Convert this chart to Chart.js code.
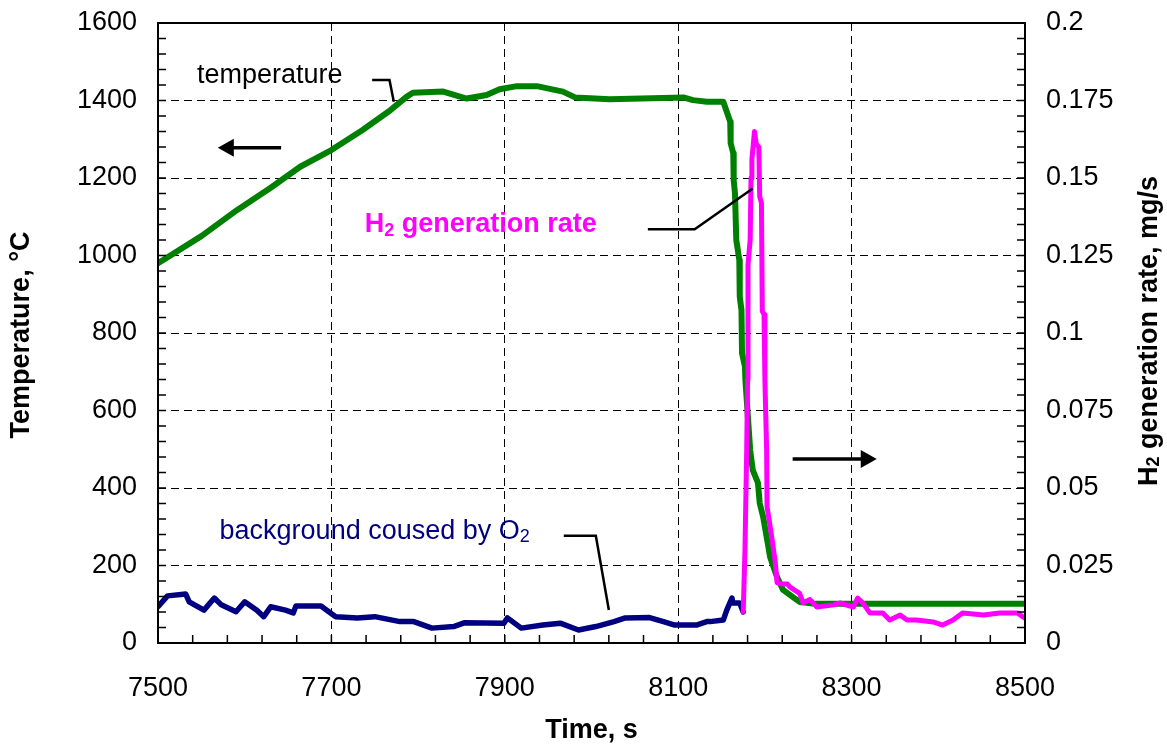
<!DOCTYPE html>
<html>
<head>
<meta charset="utf-8">
<script src="https://cdn.jsdelivr.net/npm/chart.js@4.4.0/dist/chart.umd.min.js"></script>
<style>
html, body { margin: 0; padding: 0; background: #fff; }
#wrap { width: 1167px; height: 747px; }
</style>
</head>
<body>
<div id="wrap"><canvas id="chart_dest" width="1167" height="747"></canvas></div>
<script>
// temperature (left axis, degC)
var tempTime = [7500, 7550, 7591, 7630, 7664, 7700, 7736, 7768, 7787, 7794, 7829, 7856, 7879, 7894, 7914,
  7937, 7952, 7967, 7981, 8021, 8106, 8117, 8133, 8150, 8152, 8156, 8160, 8160.5, 8163.5, 8164, 8165.5,
  8167, 8170.5, 8171, 8173, 8173.6, 8177, 8177.5, 8183, 8186, 8192, 8194, 8198, 8202, 8206, 8214, 8221,
  8232, 8240, 8258, 8500];
var tempValue = [980, 1050, 1117, 1175, 1229, 1272, 1324, 1375, 1410, 1420, 1423, 1405, 1414, 1429, 1437,
  1437, 1430, 1423, 1408, 1403, 1408, 1401, 1397, 1397, 1397, 1371, 1345, 1290, 1264, 1195, 1160,
  1040, 988, 894, 859, 748, 713, 679, 498, 446, 413, 361, 325, 274, 222, 170, 137,
  119, 106, 101, 101];

// H2 generation rate (right axis, mg/s)
var h2Time = [8175, 8177, 8179, 8180, 8180.5, 8183, 8184, 8185, 8188, 8190, 8193, 8194, 8196, 8197, 8199,
  8200, 8202, 8202.5, 8208, 8212, 8214, 8220, 8226, 8229, 8240, 8244, 8252, 8260, 8279, 8287, 8302,
  8307, 8313, 8321, 8336, 8344, 8356, 8364, 8375, 8394, 8405, 8417, 8428, 8452, 8471, 8491, 8500];
var h2Rate = [0.010, 0.030, 0.062, 0.085, 0.122, 0.130, 0.150, 0.156, 0.165, 0.161, 0.160, 0.144, 0.142, 0.107, 0.106,
  0.085, 0.062, 0.044, 0.034, 0.026, 0.0195, 0.019, 0.019, 0.018, 0.016, 0.013, 0.014, 0.0116, 0.0123, 0.0129, 0.0116,
  0.0145, 0.0129, 0.0097, 0.0097, 0.0074, 0.009, 0.0074, 0.0074, 0.0068, 0.0058, 0.0074, 0.0097, 0.009, 0.0097, 0.0097, 0.008];

// background caused by O2 (right axis, mg/s)
var bgTime = [7500, 7511, 7532, 7536, 7553, 7565, 7573, 7590, 7600, 7614, 7622, 7630, 7647, 7656, 7659,
  7688, 7697, 7705, 7730, 7750, 7779, 7795, 7816, 7841, 7853, 7899, 7903, 7919, 7944, 7964, 7985,
  8005, 8026, 8039, 8067, 8083, 8096, 8121, 8133, 8137, 8152, 8156, 8162, 8163, 8171, 8175];
var bgRate = [0.0117, 0.0152, 0.0158, 0.0133, 0.0106, 0.0145, 0.0123, 0.0101, 0.0133, 0.0106, 0.0085, 0.0117, 0.0106, 0.0097, 0.0119,
  0.0119, 0.0101, 0.0085, 0.0081, 0.0085, 0.0069, 0.0069, 0.0048, 0.0053, 0.0065, 0.0064, 0.0081, 0.0048, 0.0058, 0.0064, 0.0042,
  0.0053, 0.0069, 0.0081, 0.0082, 0.0069, 0.0058, 0.0058, 0.0069, 0.0069, 0.0074, 0.0106, 0.0145, 0.0129, 0.0129, 0.010];

// tick labels
var xTicks = [7500, 7700, 7900, 8100, 8300, 8500];
var tempTicks = [0, 200, 400, 600, 800, 1000, 1200, 1400, 1600];
var rateTicks = [0, 0.025, 0.05, 0.075, 0.1, 0.125, 0.15, 0.175, 0.2];
var rateTickLabels = ['0', '0.025', '0.05', '0.075', '0.1', '0.125', '0.15', '0.175', '0.2'];

function toPoints(xs, ys) {
  return xs.map(function (x, i) { return { x: x, y: ys[i] }; });
}

var FONT = '"Liberation Sans", Arial, sans-serif';

function drawRich(ctx, parts, x, y, align) {
  var total = 0;
  parts.forEach(function (p) { ctx.font = p.font; p.w = ctx.measureText(p.text).width; total += p.w; });
  var cx = align === 'center' ? x - total / 2 : (align === 'right' ? x - total : x);
  ctx.textAlign = 'left';
  parts.forEach(function (p) { ctx.font = p.font; ctx.fillText(p.text, cx, y + (p.dy || 0)); cx += p.w; });
}

function arrow(ctx, x1, x2, y) {
  var dir = x2 > x1 ? 1 : -1;
  ctx.strokeStyle = '#000';
  ctx.fillStyle = '#000';
  ctx.lineWidth = 3.5;
  ctx.beginPath();
  ctx.moveTo(x1, y);
  ctx.lineTo(x2 - dir * 12, y);
  ctx.stroke();
  ctx.beginPath();
  ctx.moveTo(x2, y);
  ctx.lineTo(x2 - dir * 16, y - 9);
  ctx.lineTo(x2 - dir * 16, y + 9);
  ctx.closePath();
  ctx.fill();
}

function leader(ctx, pts) {
  ctx.strokeStyle = '#000';
  ctx.lineWidth = 2.5;
  ctx.beginPath();
  pts.forEach(function (p, i) { if (i) ctx.lineTo(p[0], p[1]); else ctx.moveTo(p[0], p[1]); });
  ctx.stroke();
}

// no extra room for the first/last tick labels: the plot area is fixed
function fixPadding(s) {
  s.paddingTop = 0; s.paddingBottom = 0; s.paddingLeft = 0; s.paddingRight = 0;
}

var decor = {
  id: 'decor',
  afterDraw: function (chart) {
    var ctx = chart.ctx, a = chart.chartArea;
    var sx = chart.scales.x, sT = chart.scales.yT, sR = chart.scales.yR;
    var X = function (t) { return sx.getPixelForValue(t); };
    var T = function (v) { return sT.getPixelForValue(v); };
    ctx.save();

    // frame
    ctx.strokeStyle = '#000';
    ctx.lineWidth = 2;
    ctx.strokeRect(a.left, a.top, a.right - a.left, a.bottom - a.top);

    // minor ticks pointing inward
    ctx.lineWidth = 1.5;
    ctx.beginPath();
    var i, p;
    for (i = 0; i <= 40; i++) {
      p = T(i * 40);
      ctx.moveTo(a.left, p); ctx.lineTo(a.left + 8, p);
      p = sR.getPixelForValue(i * 0.005);
      ctx.moveTo(a.right, p); ctx.lineTo(a.right - 8, p);
    }
    for (i = 0; i <= 25; i++) {
      p = X(7500 + i * 40);
      ctx.moveTo(p, a.bottom); ctx.lineTo(p, a.bottom - 8);
    }
    ctx.stroke();

    // annotations
    ctx.textBaseline = 'alphabetic';
    ctx.fillStyle = '#000';
    drawRich(ctx, [{ text: 'temperature', font: '27px ' + FONT }], X(7545), T(1445), 'left');
    leader(ctx, [[X(7747), T(1453)], [X(7767), T(1453)], [X(7772), T(1397)]]);
    arrow(ctx, X(7642), X(7569), T(1278));
    arrow(ctx, X(8232), X(8329), T(475));

    ctx.fillStyle = '#FF00FF';
    drawRich(ctx, [
      { text: 'H', font: 'bold 27px ' + FONT },
      { text: '2', font: 'bold 18px ' + FONT, dy: 4 },
      { text: ' generation rate', font: 'bold 27px ' + FONT }
    ], X(8006), T(1060), 'right');
    leader(ctx, [[X(8065), T(1068)], [X(8119), T(1068)], [X(8186), T(1173)]]);

    ctx.fillStyle = '#000080';
    drawRich(ctx, [
      { text: 'background coused by O', font: '27px ' + FONT },
      { text: '2', font: '18px ' + FONT, dy: 3 }
    ], X(7571), T(268), 'left');
    leader(ctx, [[X(7968), T(277)], [X(8005), T(277)], [X(8020), T(85)]]);

    // axis titles
    ctx.fillStyle = '#000';
    ctx.textBaseline = 'middle';
    drawRich(ctx, [{ text: 'Time, s', font: 'bold 27px ' + FONT }], (a.left + a.right) / 2, a.bottom + 88, 'center');

    ctx.save();
    ctx.translate(a.left - 136, (a.top + a.bottom) / 2 + 2);
    ctx.rotate(-Math.PI / 2);
    drawRich(ctx, [{ text: 'Temperature, \u00B0C', font: 'bold 27px ' + FONT }], 0, 0, 'center');
    ctx.restore();

    ctx.save();
    ctx.translate(a.right + 125, (a.top + a.bottom) / 2 - 2);
    ctx.rotate(-Math.PI / 2);
    drawRich(ctx, [
      { text: 'H', font: 'bold 27px ' + FONT },
      { text: '2', font: 'bold 18px ' + FONT, dy: 4 },
      { text: ' generation rate, mg/s', font: 'bold 27px ' + FONT }
    ], 0, 0, 'center');
    ctx.restore();

    ctx.restore();
  }
};

var gridDash = [8, 5];

var ctxEl = document.getElementById('chart_dest');
var chart = new Chart(ctxEl, {
  type: 'line',
  data: {
    datasets: [
      {
        label: 'H2 generation rate',
        data: toPoints(h2Time, h2Rate),
        yAxisID: 'yR',
        borderColor: '#FF00FF',
        borderWidth: 5,
        order: 0
      },
      {
        label: 'temperature',
        data: toPoints(tempTime, tempValue),
        yAxisID: 'yT',
        borderColor: '#008000',
        borderWidth: 6,
        order: 1
      },
      {
        label: 'background coused by O2',
        data: toPoints(bgTime, bgRate),
        yAxisID: 'yR',
        borderColor: '#000080',
        borderWidth: 5.5,
        order: 2
      }
    ]
  },
  options: {
    responsive: false,
    animation: false,
    events: [],
    layout: { padding: { top: 23, left: 0, right: 0, bottom: 0 } },
    elements: {
      point: { radius: 0 },
      line: { tension: 0, borderJoinStyle: 'round', borderCapStyle: 'round', fill: false }
    },
    plugins: {
      legend: { display: false },
      tooltip: { enabled: false },
      title: { display: false }
    },
    scales: {
      x: {
        type: 'linear',
        min: 7500,
        max: 8500,
        afterBuildTicks: function (s) { s.ticks = xTicks.map(function (v) { return { value: v }; }); },
        afterFit: function (s) { s.height = 104; fixPadding(s); },
        ticks: {
          padding: 29,
          color: '#000',
          font: { family: FONT, size: 27 },
          maxRotation: 0,
          callback: function (v) { return String(v); }
        },
        grid: {
          drawTicks: false,
          lineWidth: 1,
          color: function (c) { return (c.tick && (c.tick.value === 7500 || c.tick.value === 8500)) ? 'rgba(0,0,0,0)' : '#000'; }
        },
        border: { display: false, dash: gridDash }
      },
      yT: {
        type: 'linear',
        position: 'left',
        min: 0,
        max: 1600,
        afterBuildTicks: function (s) { s.ticks = tempTicks.map(function (v) { return { value: v }; }); },
        afterFit: function (s) { s.width = 158; fixPadding(s); },
        ticks: {
          padding: 21,
          color: '#000',
          font: { family: FONT, size: 27 },
          callback: function (v) { return String(v); }
        },
        grid: {
          drawTicks: false,
          lineWidth: 1,
          color: function (c) { return (c.tick && (c.tick.value === 0 || c.tick.value === 1600)) ? 'rgba(0,0,0,0)' : '#000'; }
        },
        border: { display: false, dash: gridDash }
      },
      yR: {
        type: 'linear',
        position: 'right',
        min: 0,
        max: 0.2,
        afterBuildTicks: function (s) { s.ticks = rateTicks.map(function (v) { return { value: v }; }); },
        afterFit: function (s) { s.width = 142; fixPadding(s); },
        ticks: {
          padding: 21,
          color: '#000',
          font: { family: FONT, size: 27 },
          callback: function (v) {
            var k = rateTicks.indexOf(v);
            return k >= 0 ? rateTickLabels[k] : String(v);
          }
        },
        grid: { drawOnChartArea: false, drawTicks: false },
        border: { display: false }
      }
    }
  },
  plugins: [decor]
});
</script>
</body>
</html>
